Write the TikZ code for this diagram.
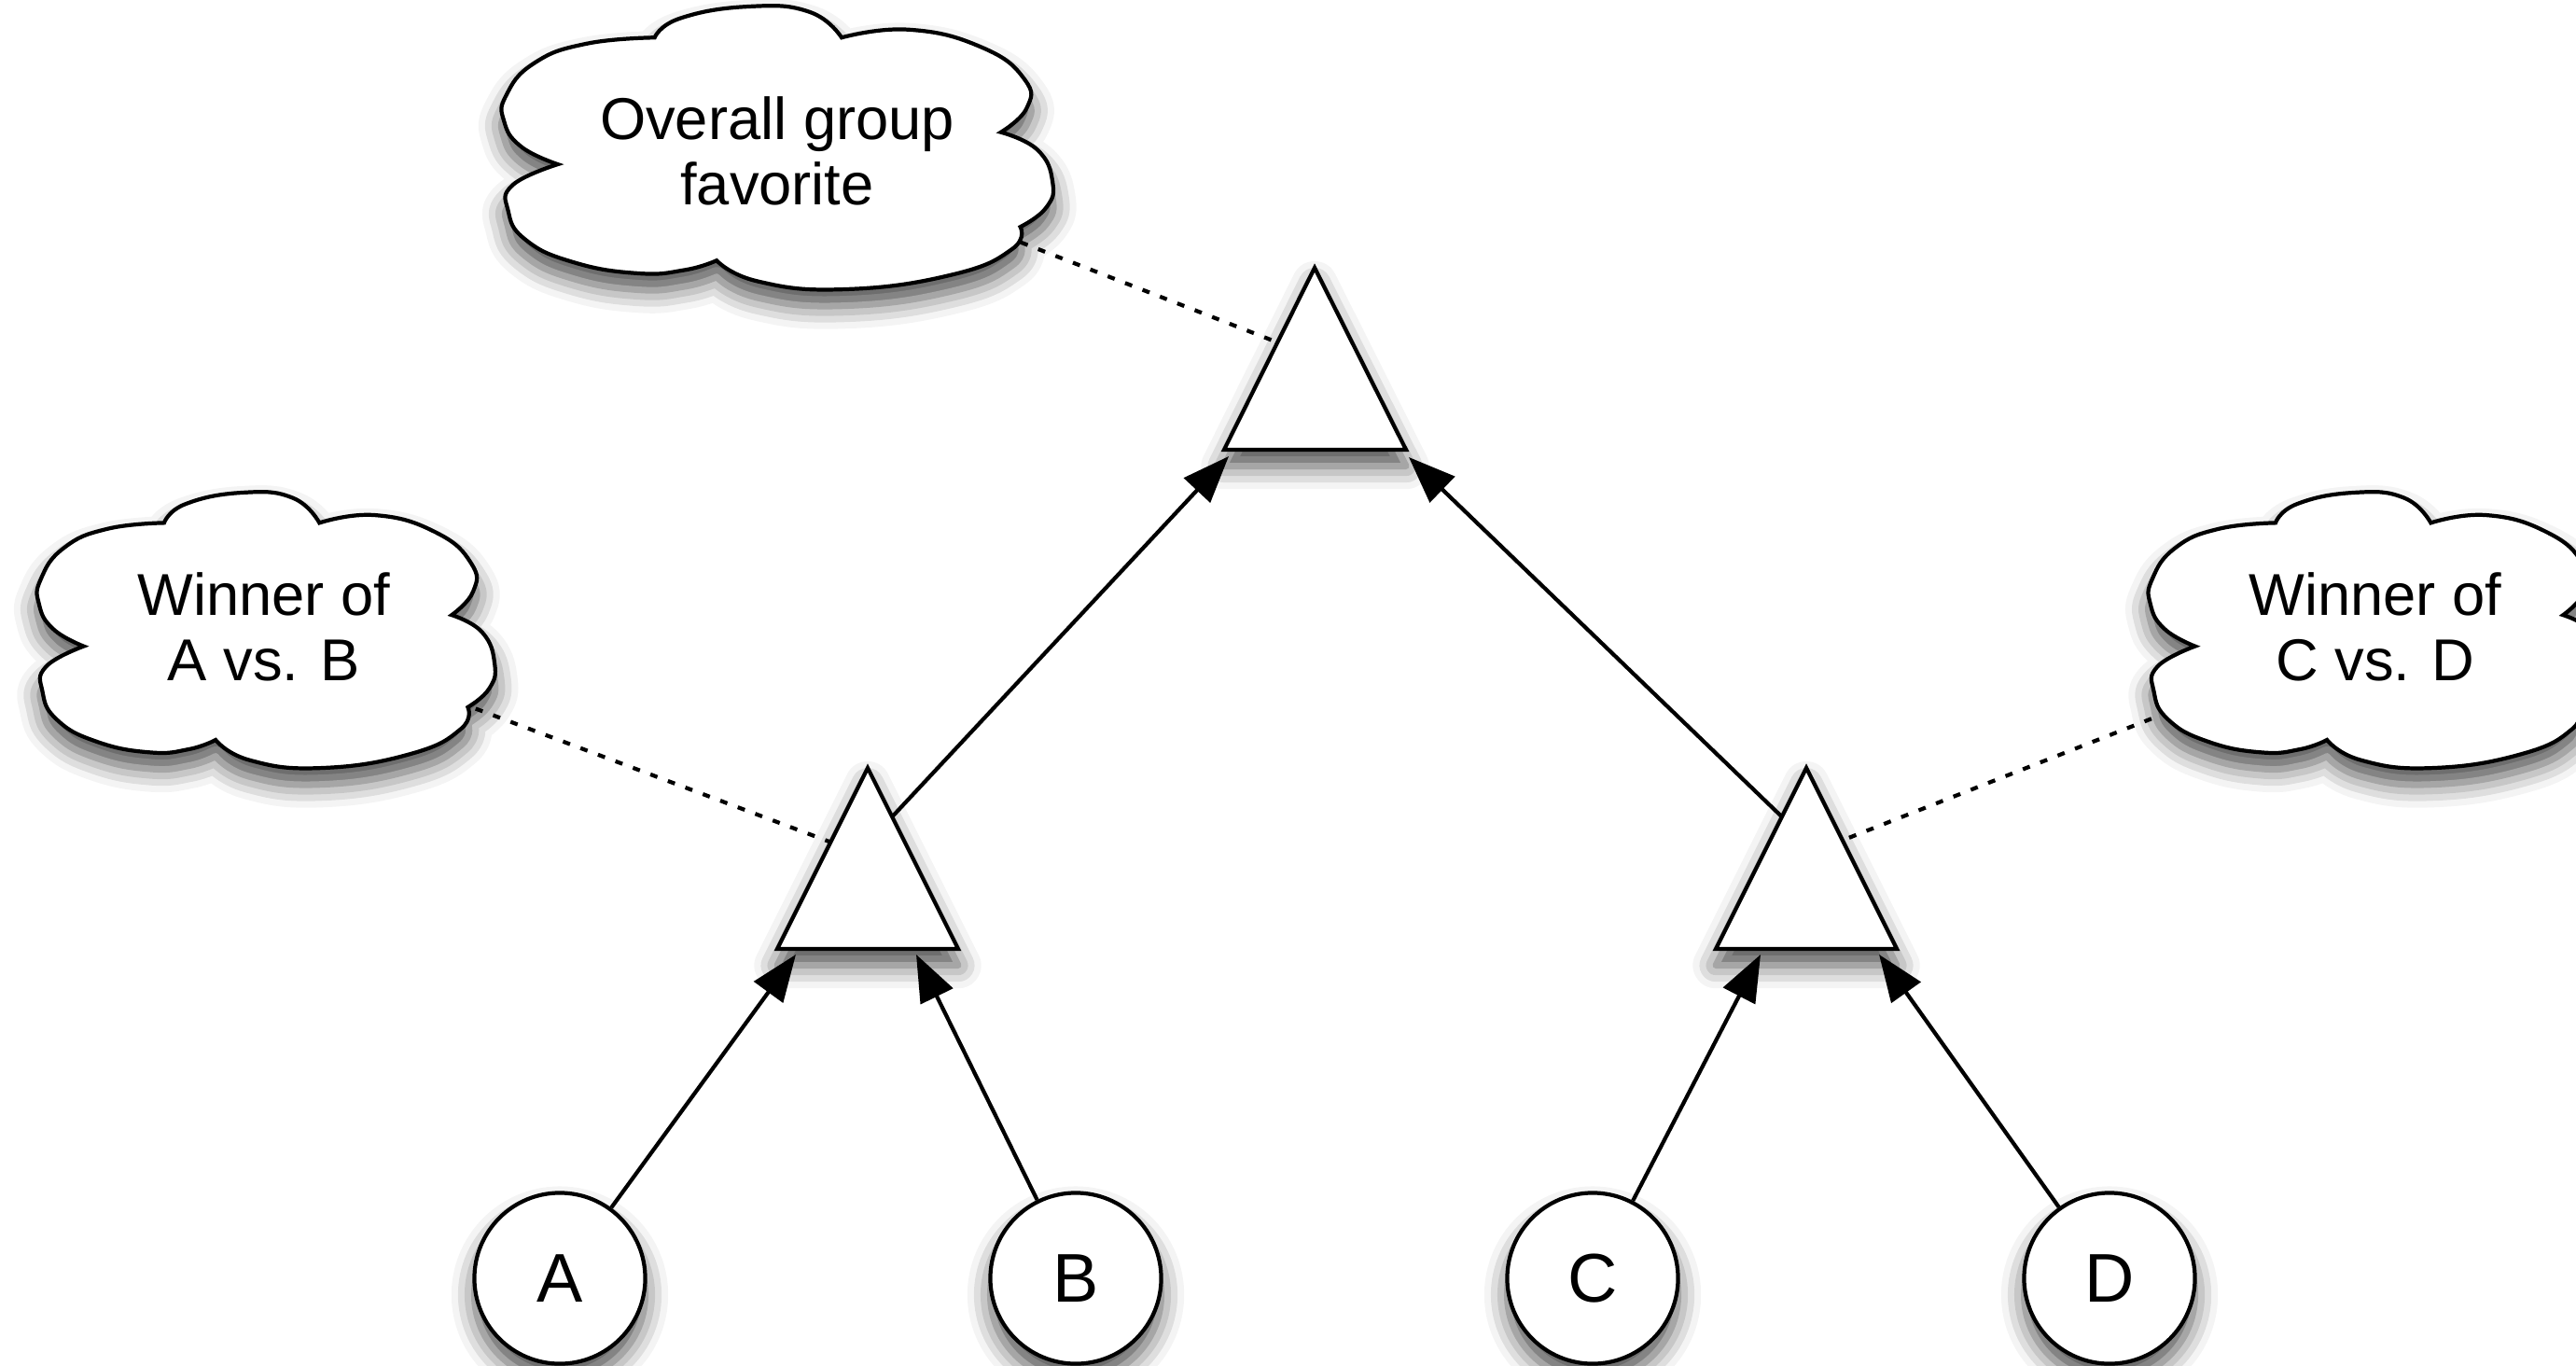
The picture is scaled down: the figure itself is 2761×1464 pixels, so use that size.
\documentclass[tikz,border=0pt]{standalone}
\usepackage{fontspec}
\setmainfont{Liberation Sans}
\usetikzlibrary{arrows.meta,calc,shadows.blur}
% cloud outline in a unit box [-1,1]x[-1,1] (y pointing down)
\newcommand\cloudoutline[4]{% #1 cx, #2 cy, #3 half width (cm), #4 half height (cm)
  \begin{scope}[shift={(#1,#2)}, x=#3cm, y=-#4cm]
  \path[cloudline] (-0.797,0.119)
    -- plot[smooth, tension=0.8] coordinates {(-0.797,0.119) (-0.93,-0.006) (-0.992,-0.186) (-0.984,-0.367) (-0.883,-0.593) (-0.695,-0.73) (-0.445,-0.774)}
    -- plot[smooth, tension=0.8] coordinates {(-0.445,-0.774) (-0.352,-0.91) (-0.102,-0.993) (0.117,-0.955) (0.234,-0.774)}
    -- plot[smooth, tension=0.8] coordinates {(0.234,-0.774) (0.477,-0.83) (0.742,-0.706) (0.898,-0.48) (0.906,-0.277) (0.8125,-0.107)}
    -- plot[smooth, tension=0.8] coordinates {(0.8125,-0.107) (0.945,0.017) (1.0,0.243) (0.977,0.424) (0.883,0.56)}
    -- plot[smooth, tension=0.8] coordinates {(0.883,0.56) (0.852,0.718) (0.633,0.898) (0.242,1.0) (-0.07,0.944) (-0.22,0.797)}
    -- plot[smooth, tension=0.8] coordinates {(-0.22,0.797) (-0.336,0.864) (-0.508,0.887) (-0.742,0.808) (-0.914,0.65) (-0.977,0.446) (-0.961,0.266) (-0.797,0.119)}
    -- cycle;
  \end{scope}
}
\begin{document}
\begin{tikzpicture}[x=0.01cm,y=-0.01cm,
  shad/.style={blur shadow={shadow xshift=0pt,shadow yshift=-5pt,shadow blur radius=7pt,shadow opacity=70}},
  cloudline/.style={draw, line width=1.2pt, fill=white, line join=miter, shad},
  thought/.style={align=center, inner sep=0pt, font=\fontsize{18}{20}\selectfont},
  player/.style={circle, draw, line width=1.2pt, fill=white, minimum size=1.83cm, inner sep=0pt,
    shad, font=\fontsize{21}{24}\selectfont},
  tri/.style={draw, line width=1.2pt, fill=white, line join=miter, shad},
  arr/.style={line width=1.2pt, -{Triangle[length=0.5cm,width=0.38cm,fill=black]}},
  dots/.style={line width=1.2pt, dash pattern=on 0.08cm off 0.12cm},
]
\useasboundingbox (0,0) rectangle (2761,1464);

% triangle corners
\coordinate (T0a) at (1409,287);
\coordinate (T0l) at (1312,482);
\coordinate (T0r) at (1507,482);
\coordinate (T1a) at (930,823);
\coordinate (T1l) at (833,1017);
\coordinate (T1r) at (1027,1017);
\coordinate (T2a) at (1936,823);
\coordinate (T2l) at (1839,1017);
\coordinate (T2r) at (2033,1017);

% dotted links (start hidden under the clouds)
\coordinate (d0) at ($(T0a)!0.41!(T0l)$);
\coordinate (d1) at ($(T1a)!0.41!(T1l)$);
\coordinate (d2) at ($(T2a)!0.40!(T2r)$);
\coordinate (k0) at (833,158);
\coordinate (k1) at (285,675);
\coordinate (k2) at (2548,675);
\draw[dots] (k0) -- (d0);
\draw[dots] (k1) -- (d1);
\draw[dots] (k2) -- (d2);

% clouds
\cloudoutline{833}{158}{2.95}{1.52}
\cloudoutline{285}{675}{2.45}{1.48}
\cloudoutline{2548}{675}{2.45}{1.48}
\node[thought] (c0) at (833,162) {Overall group\\favorite};
\node[thought] (c1) at (283,672) {Winner of\\A vs. B};
\node[thought] (c2) at (2546,672) {Winner of\\C vs. D};

% triangles
\path[tri] (T0a) -- (T0r) -- (T0l) -- cycle;
\path[tri] (T1a) -- (T1r) -- (T1l) -- cycle;
\path[tri] (T2a) -- (T2r) -- (T2l) -- cycle;

% players
\node[player] (A) at (600,1370) {A};
\node[player] (B) at (1153,1370) {B};
\node[player] (C) at (1707,1370) {C};
\node[player] (D) at (2261,1370) {D};

% arrow tips and starts
\coordinate (tA) at (853,1023);
\coordinate (tB) at (982,1023);
\coordinate (tC) at (1887,1023);
\coordinate (tD) at (2014,1023);
\coordinate (tL) at (1317,489);
\coordinate (tR) at (1510,490);
\coordinate (s1) at ($(T1a)!0.27!(T1r)$);
\coordinate (s2) at ($(T2a)!0.27!(T2l)$);

\draw[arr] (A) -- (tA);
\draw[arr] (B) -- (tB);
\draw[arr] (C) -- (tC);
\draw[arr] (D) -- (tD);
\draw[arr] (s1) -- (tL);
\draw[arr] (s2) -- (tR);
\end{tikzpicture}
\end{document}
